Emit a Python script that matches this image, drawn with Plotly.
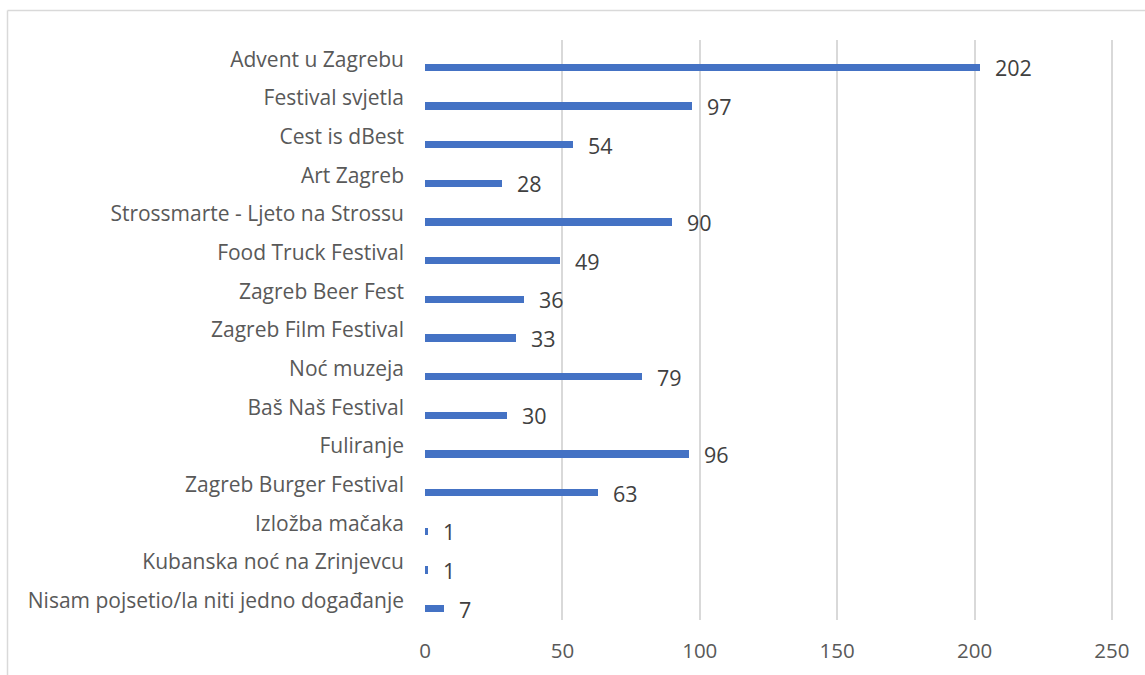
import plotly.graph_objects as go

categories = [
    "Advent u Zagrebu",
    "Festival svjetla",
    "Cest is dBest",
    "Art Zagreb",
    "Strossmarte - Ljeto na Strossu",
    "Food Truck Festival",
    "Zagreb Beer Fest",
    "Zagreb Film Festival",
    "Noć muzeja",
    "Baš Naš Festival",
    "Fuliranje",
    "Zagreb Burger Festival",
    "Izložba mačaka",
    "Kubanska noć na Zrinjevcu",
    "Nisam pojsetio/la niti jedno događanje",
]
values = [202, 97, 54, 28, 90, 49, 36, 33, 79, 30, 96, 63, 1, 1, 7]
x_ticks = [0, 50, 100, 150, 200, 250]

W, H = 1145, 675
L, R, T, B = 425, 32, 40, 55
pw = W - L - R
ph = H - T - B

fig = go.Figure()
fig.add_trace(go.Bar(
    x=values, y=categories, orientation="h",
    marker=dict(color="#4472C4", line=dict(width=0)),
    width=0.194, offset=0.11,
    hoverinfo="x+y",
))

for c, v in zip(categories, values):
    fig.add_annotation(
        x=v, y=c, xref="x", yref="y", text=str(v), showarrow=False,
        xanchor="left", yanchor="middle", xshift=13, yshift=-8.5,
        font=dict(family="Open Sans", size=21.5, color="#404040"),
    )

# chart border (top and left visible)
def px2paper_x(px):
    return (px - L) / pw

def px2paper_y(py):
    return (H - B - py) / ph

fig.add_shape(type="line", xref="paper", yref="paper",
              x0=px2paper_x(7.5), x1=px2paper_x(W + 20),
              y0=px2paper_y(10.5), y1=px2paper_y(10.5),
              line=dict(color="#d9d9d9", width=1.5))
fig.add_shape(type="line", xref="paper", yref="paper",
              x0=px2paper_x(7.5), x1=px2paper_x(7.5),
              y0=px2paper_y(10.5), y1=px2paper_y(H + 20),
              line=dict(color="#d9d9d9", width=1.5))

fig.update_layout(
    width=W, height=H,
    margin=dict(l=L, r=R, t=T, b=B, pad=0),
    paper_bgcolor="white", plot_bgcolor="white",
    showlegend=False,
    bargap=0,
    font=dict(family="Open Sans", size=21, color="#595959"),
)
fig.update_xaxes(
    range=[0, 250.4], tickvals=x_ticks, ticktext=[str(t) for t in x_ticks],
    showgrid=True, gridcolor="#d9d9d9", gridwidth=1.5,
    zeroline=False, showline=False, ticks="",
    ticklabelstandoff=16,
    tickfont=dict(family="Open Sans", size=20.5, color="#595959"),
)
fig.update_yaxes(
    type="category", categoryorder="array", categoryarray=categories,
    range=[len(categories) - 0.5, -0.5], autorange=False,
    showgrid=False, zeroline=False,
    showline=False, ticks="", ticklabelstandoff=20,
    tickfont=dict(family="Open Sans", size=21, color="#595959"),
)

fig.write_html(
    "out.html",
    config={"displayModeBar": False},
    post_script="document.body.style.margin='0';document.body.style.overflow='hidden';",
)
